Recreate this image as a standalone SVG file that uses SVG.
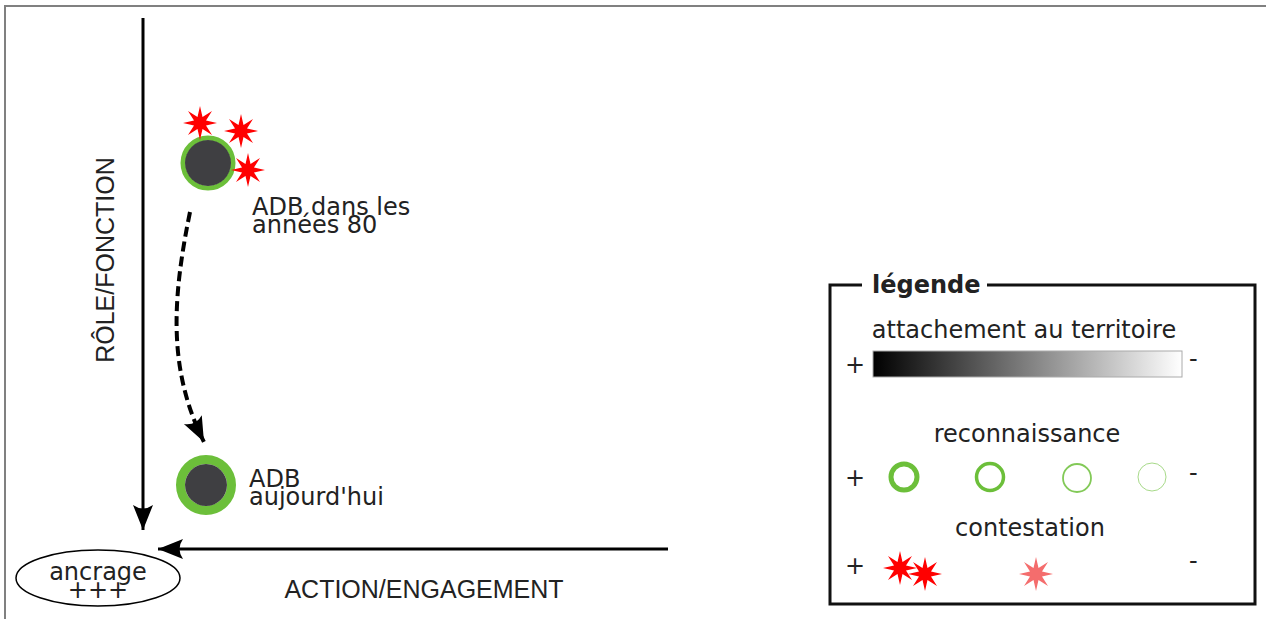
<svg xmlns="http://www.w3.org/2000/svg" width="1269" height="619" viewBox="0 0 1269 619">
<style>
text{font-family:"DejaVu Sans",Verdana,sans-serif;fill:#222;font-size:24px}
.mid{text-anchor:middle}
.ax{stroke:#000;stroke-width:3;fill:none}
.ring{fill:none;stroke:#6cbf3a}
.star{fill:#ff0000}
.sans{font-family:"Liberation Sans",Arial,sans-serif;font-size:25px}
</style>
<defs>
<polygon id="star" points="0,-17 2.5,-6 12,-12 6,-2.5 17,0 6,2.5 12,12 2.5,6 0,17 -2.5,6 -12,12 -6,2.5 -17,0 -6,-2.5 -12,-12 -2.5,-6"/>
<linearGradient id="grad" x1="0" x2="1" y1="0" y2="0">
<stop offset="0" stop-color="#000"/>
<stop offset="1" stop-color="#fff"/>
</linearGradient>
<marker id="ahBig" viewBox="0 0 26 24" refX="25" refY="12" markerWidth="26" markerHeight="24" markerUnits="userSpaceOnUse" orient="auto">
<path d="M25,12 L0,2 Q7,12 0,22 Z" fill="#000"/>
</marker>
</defs>
<rect width="1269" height="619" fill="#fff"/>
<path d="M5,619 V6 H1266" fill="none" stroke="#808080" stroke-width="2"/>

<g id="connectors">
<line class="ax" x1="143" y1="18" x2="143" y2="530" marker-end="url(#ahBig)"/>
<line class="ax" x1="668" y1="549" x2="158" y2="549" marker-end="url(#ahBig)"/>
<path d="M190,212 C172,300 168,370 204,442" fill="none" stroke="#000" stroke-width="4" stroke-dasharray="10,5" marker-end="url(#ahBig)"/>
</g>

<g id="axis-labels">
<text class="mid sans" transform="translate(114,260) rotate(-90)">RÔLE/FONCTION</text>
<text class="mid sans" x="424" y="598">ACTION/ENGAGEMENT</text>
</g>

<g id="ancrage">
<ellipse cx="98" cy="578" rx="82" ry="28" fill="none" stroke="#000" stroke-width="1.5"/>
<text class="mid" x="98" y="580" font-size="18.5">ancrage</text>
<text class="mid" x="98" y="598" font-size="18.5">+++</text>
</g>

<g id="adb80">
<circle cx="208" cy="163" r="25" class="ring" stroke-width="5"/>
<circle cx="208" cy="163" r="23" fill="#3f3f42"/>
<use href="#star" x="200" y="123" class="star"/>
<use href="#star" x="241" y="131" class="star"/>
<use href="#star" x="248" y="170" class="star"/>
<text x="252" y="215">ADB dans les</text>
<text x="252" y="233">années 80</text>
</g>

<g id="adbToday">
<circle cx="206" cy="485" r="25.5" class="ring" stroke-width="9"/>
<circle cx="206" cy="485" r="21" fill="#3f3f42"/>
<text x="249" y="487">ADB</text>
<text x="249" y="505">aujourd'hui</text>
</g>

<g id="legend">
<rect x="830" y="285" width="425" height="319" fill="none" stroke="#111" stroke-width="3"/>
<rect x="862" y="278" width="125" height="14" fill="#fff"/>
<text x="872" y="293" font-weight="bold" font-size="23.5">légende</text>
<text class="mid" x="1024" y="338">attachement au territoire</text>
<rect x="873" y="351" width="309" height="26" fill="url(#grad)" stroke="#aaa" stroke-width="1"/>
<text x="845" y="373">+</text>
<text x="1189" y="367">-</text>
<text class="mid" x="1027" y="442">reconnaissance</text>
<circle cx="904" cy="477" r="13" class="ring" stroke-width="5"/>
<circle cx="990" cy="477" r="13.5" class="ring" stroke-width="3.5"/>
<circle cx="1077" cy="478" r="14" class="ring" stroke-width="1.8" stroke-opacity="0.85"/>
<circle cx="1152" cy="477" r="14" class="ring" stroke-width="1" stroke-opacity="0.6"/>
<text x="845" y="486">+</text>
<text x="1189" y="481">-</text>
<text class="mid" x="1030" y="536">contestation</text>
<use href="#star" x="900" y="568" class="star"/>
<use href="#star" x="925" y="574" class="star"/>
<use href="#star" x="1036" y="574" fill="#f46d6d"/>
<text x="845" y="574">+</text>
<text x="1189" y="569">-</text>
</g>
</svg>
